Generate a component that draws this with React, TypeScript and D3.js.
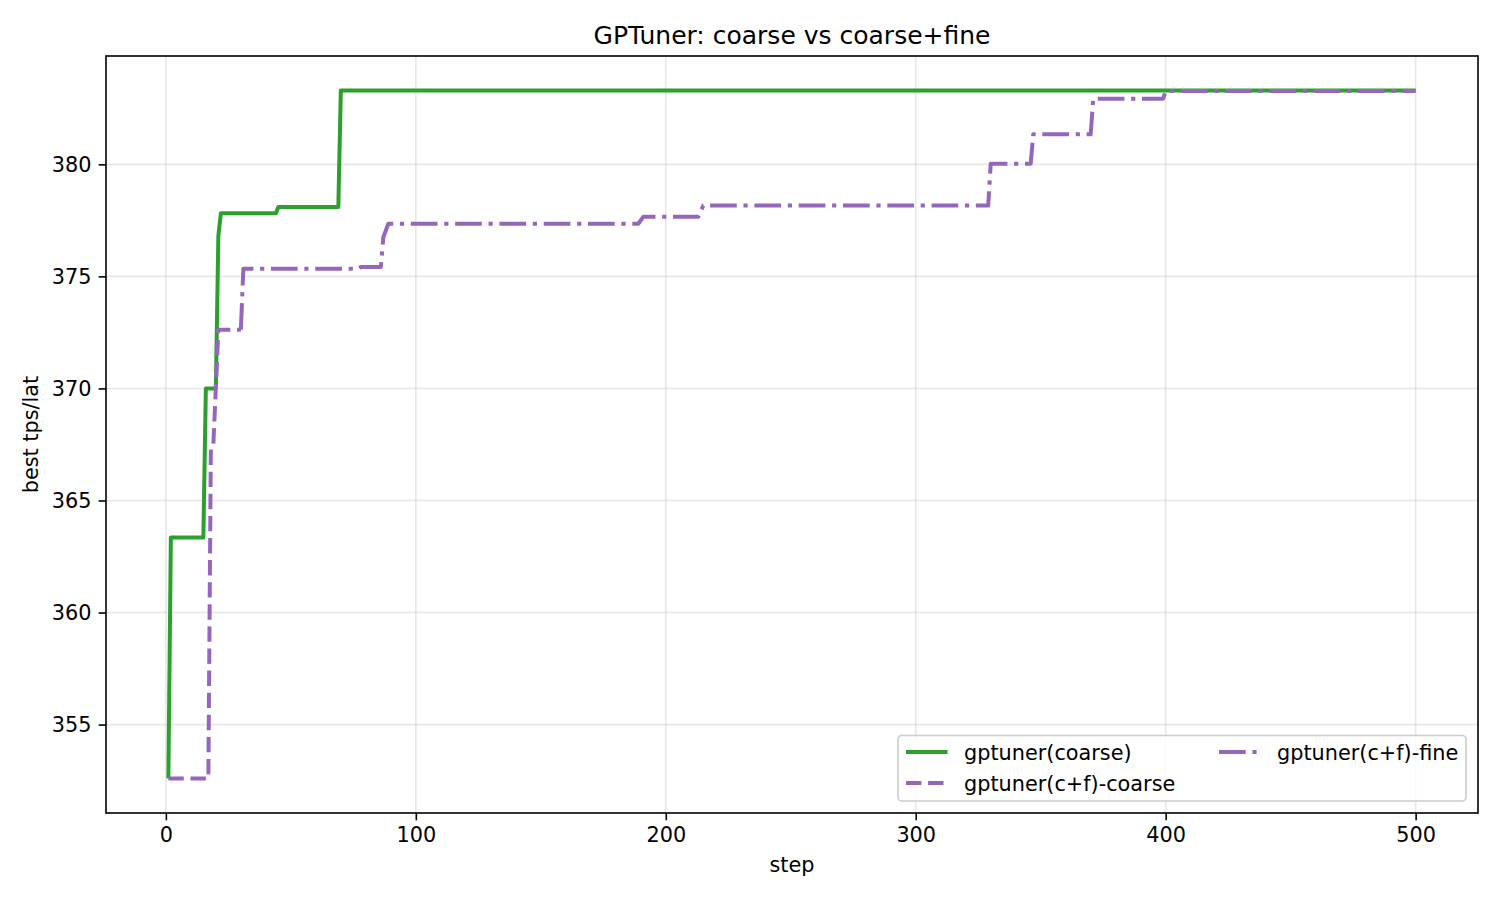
import { useEffect, useRef } from 'react'
import * as d3 from 'd3'

// best-so-far curves, given at the steps where the value changes
const coarseSteps = [1, 2, 15, 16, 20, 21, 22, 44, 45, 69, 70, 500]
const coarseVals = [352.59, 363.35, 363.35, 370.0, 370.0, 376.8, 377.82, 377.82, 378.1, 378.1, 383.3, 383.3]

const cfCoarseSteps = [1, 17, 18, 19, 21, 30]
const cfCoarseVals = [352.59, 352.59, 367.3, 367.5, 372.62, 372.62]

const cfFineSteps = [30, 31, 77, 78, 86, 87, 89, 189, 191, 213, 215, 329, 330, 346, 347, 370, 371, 399, 400, 500]
const cfFineVals = [372.62, 375.34, 375.34, 375.42, 375.42, 376.75, 377.35, 377.35, 377.66, 377.66, 378.16, 378.16, 380.03, 380.03, 381.34, 381.34, 382.93, 382.93, 383.27, 383.27]

const xTicks = [0, 100, 200, 300, 400, 500]
const yTicks = [355, 360, 365, 370, 375, 380]

const SERIES = [
  { name: 'gptuner(coarse)', steps: coarseSteps, vals: coarseVals, color: '#2ca02c', dash: null },
  { name: 'gptuner(c+f)-coarse', steps: cfCoarseSteps, vals: cfCoarseVals, color: '#9467bd', dash: '15.4,6.7' },
  { name: 'gptuner(c+f)-fine', steps: cfFineSteps, vals: cfFineVals, color: '#9467bd', dash: '26.7,6.7,4.2,6.7' },
]

const W = 1500, H = 900
const M = { left: 106, right: 1478, top: 56, bottom: 813 }
const FONT = '"DejaVu Sans", sans-serif'
const FS = 20.8
const LW = 4

export default function App() {
  const svgRef = useRef<SVGSVGElement>(null)

  useEffect(() => {
    document.body.style.margin = '0'
    const svg = d3.select(svgRef.current)
    svg.selectAll('*').remove()

    const allSteps = SERIES.flatMap(s => s.steps)
    const allVals = SERIES.flatMap(s => s.vals)
    const [x0, x1] = d3.extent(allSteps) as [number, number]
    const [y0, y1] = d3.extent(allVals) as [number, number]
    const xp = (x1 - x0) * 0.05, yp = (y1 - y0) * 0.05

    const x = d3.scaleLinear().domain([x0 - xp, x1 + xp]).range([M.left, M.right])
    const y = d3.scaleLinear().domain([y0 - yp, y1 + yp]).range([M.bottom, M.top])

    // grid
    const grid = svg.append('g').attr('stroke', '#b0b0b0').attr('stroke-opacity', 0.3).attr('stroke-width', 1.6)
    grid.selectAll('.gx').data(xTicks).join('line')
      .attr('x1', d => x(d)).attr('x2', d => x(d)).attr('y1', M.top).attr('y2', M.bottom)
    grid.selectAll('.gy').data(yTicks).join('line')
      .attr('y1', d => y(d)).attr('y2', d => y(d)).attr('x1', M.left).attr('x2', M.right)

    // lines
    const line = d3.line<[number, number]>().x(d => x(d[0])).y(d => y(d[1]))
    SERIES.forEach(s => {
      const pts = s.steps.map((st, i) => [st, s.vals[i]] as [number, number])
      svg.append('path').attr('d', line(pts))
        .attr('fill', 'none').attr('stroke', s.color).attr('stroke-width', LW)
        .attr('stroke-linejoin', 'round')
        .attr('stroke-dasharray', s.dash)
    })

    // axes
    const xAxis = svg.append('g').attr('transform', `translate(0,${M.bottom})`)
      .call(d3.axisBottom(x).tickValues(xTicks).tickSize(7.3).tickPadding(7.3))
    const yAxis = svg.append('g').attr('transform', `translate(${M.left},0)`)
      .call(d3.axisLeft(y).tickValues(yTicks).tickSize(7.3).tickPadding(7.3))
    ;[xAxis, yAxis].forEach(a => {
      a.select('.domain').remove()
      a.selectAll('line').attr('stroke', '#000').attr('stroke-width', 1.6)
      a.selectAll('text').attr('font-family', FONT).attr('font-size', FS).attr('fill', '#000')
    })

    svg.append('rect').attr('x', M.left).attr('y', M.top)
      .attr('width', M.right - M.left).attr('height', M.bottom - M.top)
      .attr('fill', 'none').attr('stroke', '#000').attr('stroke-width', 1.6)

    // titles
    svg.append('text').attr('x', (M.left + M.right) / 2).attr('y', 44).attr('text-anchor', 'middle')
      .attr('font-family', FONT).attr('font-size', 25).text('GPTuner: coarse vs coarse+fine')
    svg.append('text').attr('x', (M.left + M.right) / 2).attr('y', 872).attr('text-anchor', 'middle')
      .attr('font-family', FONT).attr('font-size', FS).text('step')
    svg.append('text').attr('transform', `translate(38,${(M.top + M.bottom) / 2}) rotate(-90)`)
      .attr('text-anchor', 'middle')
      .attr('font-family', FONT).attr('font-size', FS).text('best tps/lat')

    // legend
    const lg = svg.append('g')
    lg.append('rect').attr('x', 898).attr('y', 735.5).attr('width', 568).attr('height', 65.5)
      .attr('rx', 4).attr('fill', '#fff').attr('fill-opacity', 0.8).attr('stroke', '#cccccc').attr('stroke-width', 1.6)
    const slots = [
      { hx: 906, tx: 964, cy: 752 },
      { hx: 906, tx: 964, cy: 783 },
      { hx: 1219, tx: 1277, cy: 752 },
    ]
    SERIES.forEach((s, i) => {
      const p = slots[i]
      lg.append('line').attr('x1', p.hx).attr('x2', p.hx + 41.6).attr('y1', p.cy).attr('y2', p.cy)
        .attr('stroke', s.color).attr('stroke-width', LW).attr('stroke-dasharray', s.dash)
      lg.append('text').attr('x', p.tx).attr('y', p.cy + 7.5).attr('font-family', FONT)
        .attr('font-size', FS).text(s.name)
    })
  }, [])

  return <svg ref={svgRef} width={W} height={H} style={{ display: 'block', background: '#fff' }} />
}
